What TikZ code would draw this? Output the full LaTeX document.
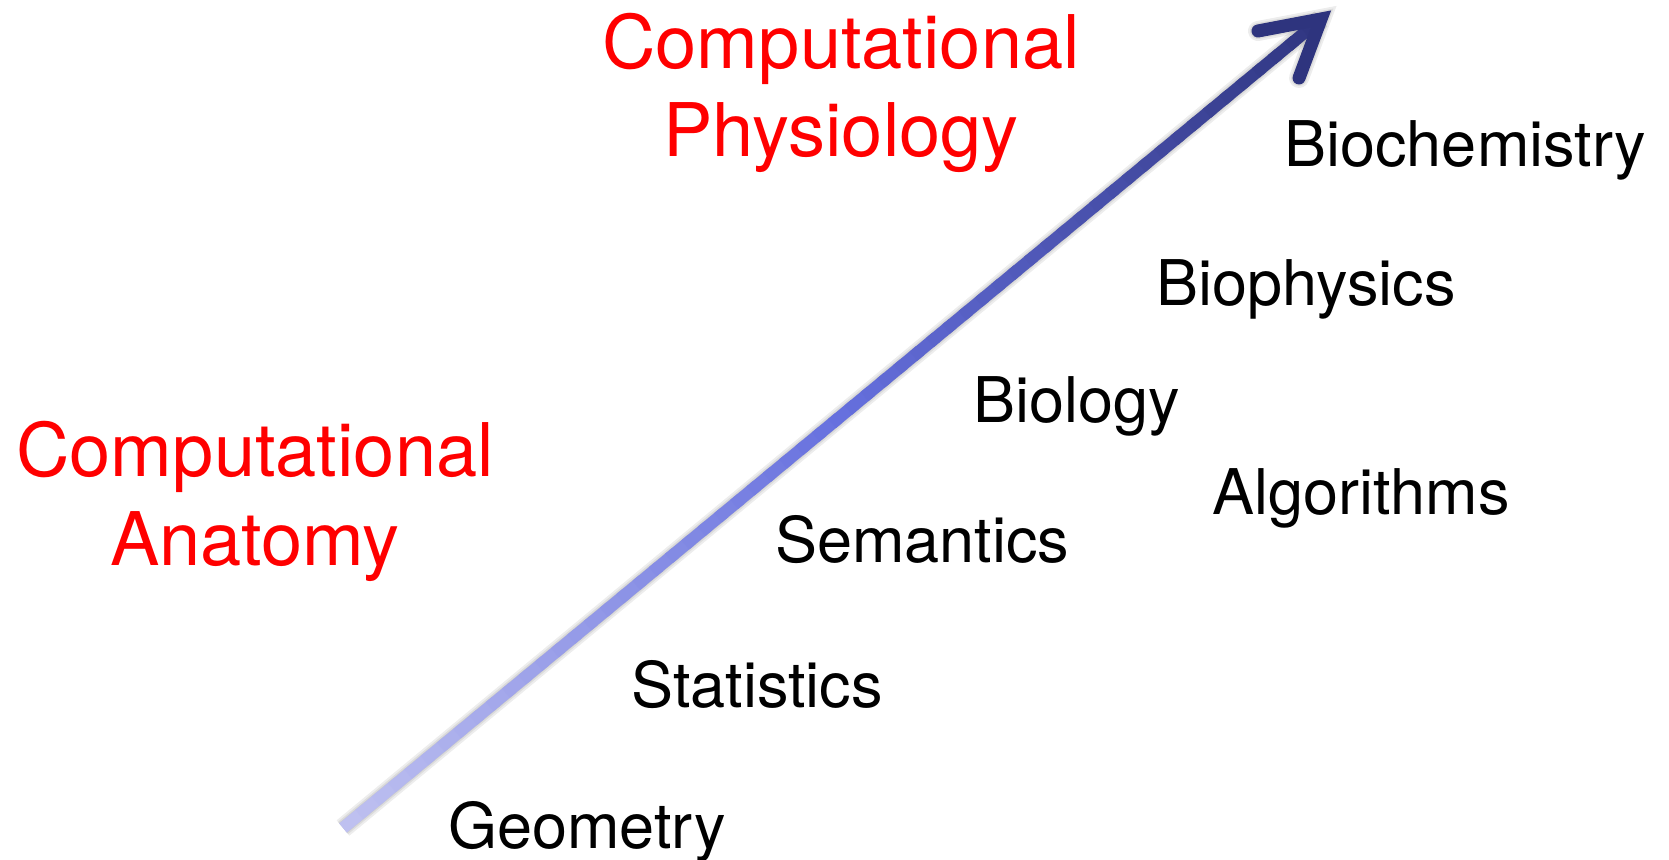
\documentclass[tikz,border=0pt]{standalone}
\usepackage{fontspec}
\setmainfont{TeX Gyre Heros}
\usetikzlibrary{calc, positioning}
\definecolor{physred}{HTML}{FF0000}
\definecolor{arrowlo}{RGB}{190,192,240}
\definecolor{arrowmid}{RGB}{102,112,222}
\definecolor{arrowhi}{RGB}{46,52,126}
\tikzset{
  fieldlabel/.style={text=physred, font=\fontsize{37}{44}\selectfont,
                     align=center, inner sep=0pt, anchor=base},
  topiclabel/.style={font=\fontsize{31.5}{38}\selectfont,
                     inner sep=0pt, anchor=base west},
  shaftshadow/.style={line width=#1, draw=black, opacity=0.07},
}

\begin{document}
\begin{tikzpicture}[x=0.5pt, y=-0.5pt]
  \useasboundingbox (0,0) rectangle (1669,860);

  % --- Field titles (anchored on the last line) ---
  \node[fieldlabel] (physio) at (841, 157) {Computational\\Physiology};
  \node[fieldlabel] (anat) at (255, 565) {Computational\\Anatomy};

  % --- Topics along the arrow ---
  \node[topiclabel] (biochem) at (1284, 167) {Biochemistry};
  \node[topiclabel] (biophys) at (1156, 306) {Biophysics};
  \node[topiclabel] (biol) at (973, 423) {Biology};
  \node[topiclabel] (algo) at (1212, 515) {Algorithms};
  \node[topiclabel] (seman) at (775, 562) {Semantics};
  \node[topiclabel] (stats) at (631, 707) {Statistics};
  \node[topiclabel] (geom) at (448, 848) {Geometry};

  % --- Arrow end points ---
  \coordinate (tail) at (343, 828);
  \coordinate (headtip) at (1321, 19);
  \coordinate (barbL) at (1258, 31);
  \coordinate (barbR) at (1299, 78);

  % --- Soft shadow ---
  \begin{scope}[shift={(5,5)}]
    \foreach \w in {10pt, 8pt, 6.5pt}{
      \draw[shaftshadow=\w] (tail) -- (headtip);
      \draw[shaftshadow=\w, line cap=round, line join=miter] (barbL) -- (headtip) -- (barbR);
    }
  \end{scope}

  % --- Shaded shaft ---
  \foreach \i in {0,...,59}{
    \pgfmathsetmacro{\pa}{\i/60}
    \pgfmathsetmacro{\pb}{min(1,(\i+1.4)/60)}
    \ifnum\i<30
      \pgfmathsetmacro{\mix}{100-\i*100/30}
      \def\cfrom{arrowlo}\def\cto{arrowmid}
    \else
      \pgfmathsetmacro{\mix}{100-(\i-30)*100/30}
      \def\cfrom{arrowmid}\def\cto{arrowhi}
    \fi
    \draw[line width=6pt, draw=\cfrom!\mix!\cto]
      ($(tail)!\pa!(headtip)$) -- ($(tail)!\pb!(headtip)$);
  }

  % --- Arrow head ---
  \draw[line width=6.5pt, arrowhi, line cap=round, line join=miter]
    (barbL) -- (headtip) -- (barbR);

\end{tikzpicture}
\end{document}
